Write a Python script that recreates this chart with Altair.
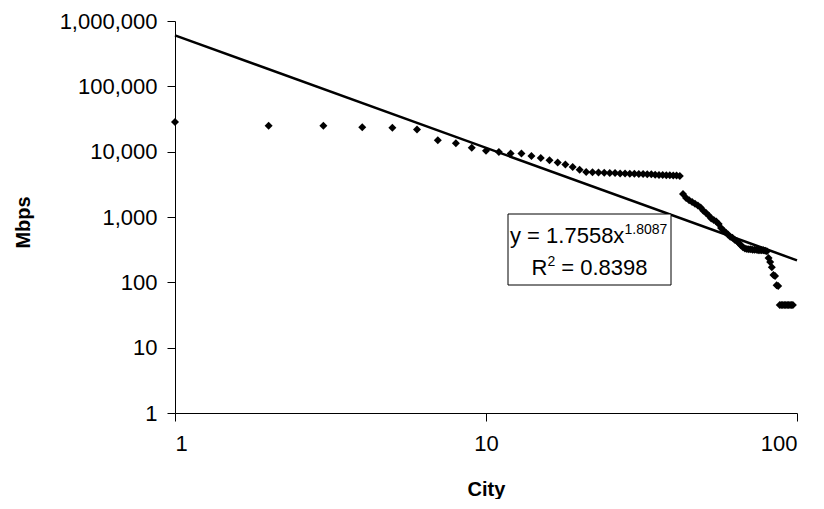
import altair as alt
import pandas as pd

# ---- data ----
city_rank = list(range(1, 98))
mbps = [
    28400, 24900, 24900, 23600, 23200, 21900, 15000, 13400, 11500, 10300,
    9900, 9350, 9350, 8600, 8000, 7400, 6800, 6350, 5850, 5300,
    4900, 4850, 4800, 4750, 4700, 4700, 4650, 4650, 4600, 4600,
    4550, 4550, 4500, 4500, 4450, 4400, 4400, 4350, 4350, 4300,
    4300, 4250, 2250, 1950, 1800, 1700, 1600, 1500, 1400, 1250,
    1150, 1050, 950, 900, 850, 780, 680, 620, 580, 540,
    500, 480, 450, 430, 400, 370, 345, 330, 325, 320,
    320, 315, 315, 315, 310, 310, 310, 310, 305, 300,
    235, 205, 170, 130, 125, 90, 88, 45, 45, 45,
    45, 45, 45, 45, 45, 45, 45,
]
trend_city = [1, 100]
trend_mbps = [603000, 217]
x_ticks = [1, 10, 100]
y_ticks = [1, 10, 100, 1000, 10000, 100000, 1000000]

eq_main = "y = 1.7558x"
eq_exp = "1.8087"
r2_base = "R"
r2_exp = "2"
r2_rest = "= 0.8398"

points = pd.DataFrame({"City": city_rank, "Mbps": mbps})
trend = pd.DataFrame({"City": trend_city, "Mbps": trend_mbps})
one = pd.DataFrame({"k": [0]})

FONT = "Liberation Sans"

x_enc = alt.X(
    "City:Q",
    scale=alt.Scale(type="log", domain=[1, 100], nice=False),
    axis=alt.Axis(
        values=x_ticks, format=",", title="City", labelPadding=12,
        titleX=311, titleY=76, titleBaseline="middle", titleAlign="center",
    ),
)
y_enc = alt.Y(
    "Mbps:Q",
    scale=alt.Scale(type="log", domain=[1, 1000000], nice=False),
    axis=alt.Axis(
        values=y_ticks, format=",", title="Mbps", labelPadding=10,
        titleX=-152, titleY=201, titleAngle=270, titleBaseline="middle",
        titleAlign="center",
    ),
)

line = alt.Chart(trend).mark_line(color="black", strokeWidth=2.5).encode(x=x_enc, y=y_enc)
dots = alt.Chart(points).mark_point(
    shape="diamond", filled=True, color="black", size=64, opacity=1
).encode(x=x_enc, y=y_enc)

box = alt.Chart(one).mark_rect(fill="white", stroke="black", strokeWidth=1).encode(
    x=alt.value(333), x2=alt.value(496), y=alt.value(193), y2=alt.value(264)
)

def txt(s, x, y, size):
    return alt.Chart(one).mark_text(
        font=FONT, fontSize=size, color="black", align="left", baseline="alphabetic"
    ).encode(x=alt.value(x), y=alt.value(y), text=alt.value(s))

t1 = txt(eq_main, 335, 222, 22)
t2 = txt(eq_exp, 449.5, 213, 14)
t3 = txt(r2_base, 356.5, 253.6, 22)
t4 = txt(r2_exp, 372.4, 244.6, 14)
t5 = txt(r2_rest, 386.3, 253.6, 22)

chart = alt.layer(line, dots, box, t1, t2, t3, t4, t5).properties(
    width=622, height=392,
    padding={"left": 167, "top": 13, "right": 19, "bottom": 86},
    autosize=alt.AutoSizeParams(type="none"),
).configure_view(stroke=None).configure_axis(
    grid=False, domainColor="black", tickColor="black", tickSize=8,
    labelColor="black", labelFont=FONT, labelFontSize=22,
    titleColor="black", titleFont=FONT, titleFontSize=20, titleFontWeight="bold",
    domainWidth=1, tickWidth=1,
)

chart.save("out.html", embed_options={"renderer": "svg", "actions": False})
